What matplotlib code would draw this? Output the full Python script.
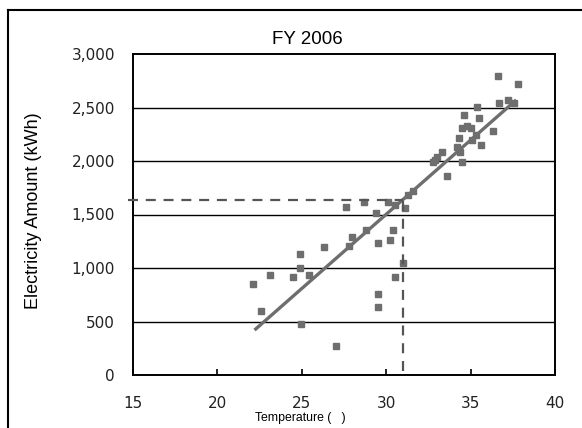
import matplotlib
matplotlib.use("Agg")
import matplotlib.pyplot as plt
from matplotlib.lines import Line2D

temp = [22.1, 22.6, 23.1, 24.5, 24.9, 24.9, 25.4, 24.95, 26.3, 27.0, 28.0, 27.8, 28.8,
        29.5, 30.2, 30.4, 29.5, 29.5, 30.5, 31.0, 27.6, 28.7, 29.4, 30.1, 30.5, 31.1,
        31.3, 32.8, 33.3, 33.0, 33.6, 34.5, 34.3, 34.5, 34.6, 35.0, 35.5, 35.4, 35.6,
        35.3, 36.3, 36.6, 36.7, 37.2, 37.8, 37.6, 34.2, 34.4, 34.8, 35.1, 32.9, 31.6]
power = [850, 600, 935, 913, 1128, 1003, 935, 474, 1200, 271, 1287, 1206, 1355,
         1236, 1262, 1355, 757, 638, 913, 1044, 1567, 1620, 1511, 1620, 1589, 1558,
         1682, 1993, 2087, 2040, 1863, 1993, 2212, 2305, 2430, 2305, 2399, 2508, 2150,
         2240, 2283, 2794, 2539, 2570, 2720, 2540, 2134, 2087, 2330, 2200, 2010, 1720]

trend_x = [22.2, 37.7]
trend_y = [420, 2570]

ref_temp = 31.0
ref_power = 1640

x_ticks = [15, 20, 25, 30, 35, 40]
y_ticks = [0, 500, 1000, 1500, 2000, 2500, 3000]
y_tick_labels = ["0", "500", "1,000", "1,500", "2,000", "2,500", "3,000"]

title = "FY 2006"
xlabel = "Temperature (   )"
ylabel = "Electricity Amount (kWh)"

fig = plt.figure(figsize=(5.82, 4.28), dpi=100)
ax = fig.add_axes([133/582, 1-375/428, (555-133)/582, (375-54)/428])

ax.set_xlim(15, 40)
ax.set_ylim(0, 3000)

for yv in y_ticks[1:-1]:
    ax.axhline(yv, color="black", lw=1.0, zorder=1)

ax.plot(trend_x, trend_y, color="#6e6e6e", lw=2.4, zorder=3, solid_capstyle="butt")
ax.plot(temp, power, linestyle="none", marker="s", markersize=4.6,
        color="#6e6e6e", zorder=4)

ax.plot([14.7, ref_temp], [ref_power, ref_power], color="#555555", lw=1.6,
        dashes=(4.5, 3.5), zorder=5, clip_on=False)
ax.plot([ref_temp, ref_temp], [40, ref_power], color="#555555", lw=1.6,
        dashes=(4.5, 3.5), zorder=5)

ax.set_xticks(x_ticks)
ax.set_xticklabels([str(v) for v in x_ticks], fontfamily="DejaVu Sans", fontsize=11,
                   color="#222222")
ax.set_yticks(y_ticks)
ax.set_yticklabels(y_tick_labels, fontfamily="DejaVu Sans", fontsize=11, color="#222222")
ax.tick_params(axis="x", direction="in", length=4, width=1.2, pad=15, color="black")
ax.tick_params(axis="y", length=0, pad=13)

for s in ax.spines.values():
    s.set_linewidth(1.4)
    s.set_color("black")

fig.text(307/582, 1-40/428, title, ha="center", va="center",
         fontfamily="Liberation Sans", fontsize=13.5)
fig.text(300/582, 1-418/428, xlabel, ha="center", va="center",
         fontfamily="Liberation Sans", fontsize=8.8)
fig.text(34/582, 1-211/428, ylabel, ha="center", va="center", rotation=90,
         fontfamily="Liberation Sans", fontsize=13)

fig.add_artist(Line2D([8/582, 8/582], [0, 1-10/428], color="black", lw=1.5,
                      transform=fig.transFigure))
fig.add_artist(Line2D([8/582, 1], [1-10/428, 1-10/428], color="black", lw=1.5,
                      transform=fig.transFigure))

fig.savefig("out.png", dpi=100)
